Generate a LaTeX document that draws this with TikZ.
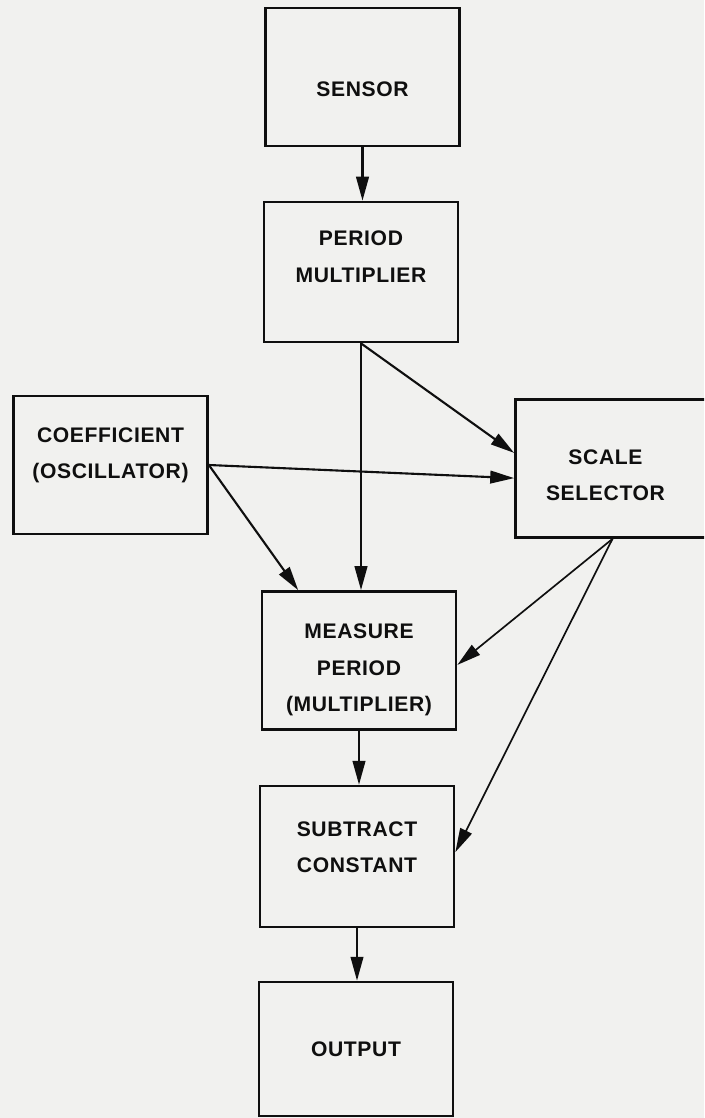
\documentclass[tikz,border=0pt]{standalone}
\usepackage{fontspec}
\setmainfont[LetterSpace=3]{Liberation Sans}
\usepackage{tikz}
\usetikzlibrary{arrows.meta}
\definecolor{paper}{RGB}{241,241,239}
\definecolor{ink}{RGB}{15,15,15}

\newcommand{\boxtext}[2]{\raisebox{\dimexpr#1-3.8pt\relax}[0pt][0pt]{\begin{tabular}{@{}c@{}}#2\end{tabular}}}

\begin{document}
\begin{tikzpicture}[x=0.025cm,y=-0.025cm,
  block/.style={draw=ink,line width=1.9pt,inner sep=0pt,
    minimum width=4.85cm,minimum height=3.45cm,
    font=\fontsize{15}{26}\selectfont\bfseries,text=ink},
  feed/.style={draw=ink,line width=1.5pt,-{Triangle[length=17pt,width=9pt]}}]
\useasboundingbox (0,0) rectangle (704,1118);
\fill[paper] (0,0) rectangle (704,1118);
\clip (0,0) rectangle (704,1118);
\node[block] (sensor) at (362.5,77) {\boxtext{-8.5pt}{SENSOR}};
\node[block,minimum height=3.5cm] (permult) at (361,272) {\boxtext{11pt}{PERIOD\\MULTIPLIER}};
\node[block] (coeff) at (110.5,465) {\boxtext{8.5pt}{COEFFICIENT\\(OSCILLATOR)}};
\node[block] (scale) at (612.5,468.5) {\boxtext{-4.6pt}{\hspace*{-10pt}SCALE\\\hspace*{-10pt}SELECTOR}};
\node[block] (measure) at (359,660.5) {\boxtext{-5pt}{MEASURE\\PERIOD\\(MULTIPLIER)}};
\node[block,minimum height=3.52cm] (subtract) at (357,856.5) {\boxtext{6.7pt}{SUBTRACT\\CONSTANT}};
\node[block,minimum height=3.35cm] (output) at (356,1049) {\boxtext{0pt}{OUTPUT}};
\draw[feed] (sensor.south) -- (sensor.south |- permult.north);
\draw[feed] (permult.south) -- (permult.south |- measure.north);
\draw[feed] (permult.south) -- ([yshift=0.39cm]scale.west);
\draw[feed] (coeff.east) -- ([yshift=-0.24cm]scale.west);
\draw[feed] (coeff.east) -- ([xshift=-1.52cm]measure.north);
\draw[feed,line width=1.2pt] (scale.south) -- ([yshift=-0.11cm]measure.east);
\draw[feed,line width=1.2pt] (scale.south) -- ([yshift=0.11cm]subtract.east);
\draw[feed] (measure.south) -- (measure.south |- subtract.north);
\draw[feed] (subtract.south) -- (subtract.south |- output.north);
\end{tikzpicture}
\end{document}
